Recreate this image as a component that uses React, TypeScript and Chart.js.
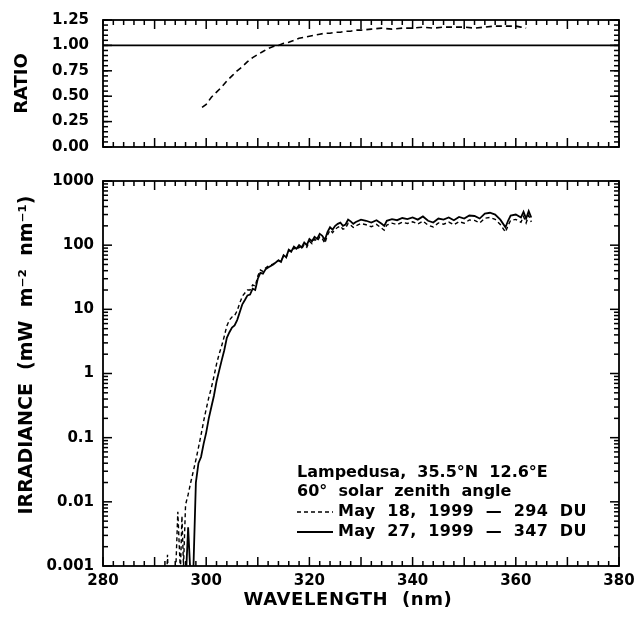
import React, { useEffect, useRef } from 'react';
import { Chart, registerables } from 'chart.js';

Chart.register(...registerables);

const FONT = '"DejaVu Sans", "Liberation Sans", sans-serif';

// ---------- DATA ----------
const ratioWavelengths = [299.2, 300, 301, 302, 303, 304, 305, 306, 307, 308, 309, 310, 311, 312, 313, 314, 315, 316, 317, 318, 319, 320, 321, 322, 323, 324, 325, 326, 327, 328, 329, 330, 332, 334, 336, 338, 340, 342, 344, 346, 348, 350, 352, 354, 356, 358, 360, 361, 362];
const ratioValues = [0.39, 0.42, 0.49, 0.54, 0.59, 0.65, 0.70, 0.75, 0.79, 0.84, 0.88, 0.91, 0.94, 0.97, 0.99, 1.00, 1.02, 1.03, 1.05, 1.07, 1.08, 1.09, 1.10, 1.11, 1.12, 1.12, 1.13, 1.13, 1.14, 1.14, 1.15, 1.15, 1.16, 1.17, 1.16, 1.17, 1.17, 1.18, 1.17, 1.18, 1.18, 1.18, 1.17, 1.18, 1.19, 1.19, 1.19, 1.18, 1.17];
const unityWavelengths = [280, 380];
const unityValues = [1, 1];

const may27Wavelengths = [296, 296.5, 297, 297.5, 298, 298.5, 299, 299.5, 300, 300.5, 301, 301.5, 302, 302.5, 303, 303.5, 304, 304.5, 305, 305.5, 306, 306.5, 307, 307.5, 308, 308.5, 309, 309.5, 310, 310.5, 311, 311.5, 312, 313, 314, 314.5, 315, 315.5, 316, 316.5, 317, 317.5, 318, 318.5, 319, 319.5, 320, 320.5, 321, 321.5, 322, 322.5, 323, 323.5, 324, 324.5, 325, 325.5, 326, 326.5, 327, 327.5, 328, 328.5, 329, 330, 331, 332, 333, 334, 334.5, 335, 336, 337, 338, 339, 340, 341, 342, 343, 344, 345, 346, 347, 348, 349, 350, 351, 352, 353, 354, 355, 356, 357, 358, 358.5, 359, 360, 361, 361.5, 362, 362.5, 363];
const may27Values = [0.0005, 0.004, 0.0006, 0.0008, 0.02, 0.04, 0.05, 0.08, 0.12, 0.2, 0.3, 0.45, 0.75, 1.1, 1.6, 2.3, 3.6, 4.4, 5.2, 5.6, 6.8, 9, 12, 14, 16.5, 17, 21, 20, 30, 37, 36, 42, 45, 50, 58, 55, 70, 65, 85, 80, 95, 88, 100, 92, 110, 100, 125, 115, 135, 125, 150, 140, 120, 160, 190, 175, 200, 215, 225, 200, 210, 250, 235, 215, 230, 250, 240, 225, 245, 215, 200, 240, 255, 245, 265, 255, 270, 250, 280, 240, 225, 260, 250, 270, 245, 275, 260, 290, 285, 260, 310, 320, 300, 250, 190, 240, 290, 300, 270, 330, 260, 340, 270];

const may18Wavelengths = [292.3, 292.5, 292.7, 294, 294.5, 295, 295.3, 295.6, 296, 296.5, 297, 297.5, 298, 298.5, 299, 299.5, 300, 300.5, 301, 301.5, 302, 302.5, 303, 303.5, 304, 304.5, 305, 305.5, 306, 306.5, 307, 307.5, 308, 308.5, 309, 309.5, 310, 310.5, 311, 311.5, 312, 313, 314, 314.5, 315, 315.5, 316, 316.5, 317, 317.5, 318, 318.5, 319, 319.5, 320, 320.5, 321, 321.5, 322, 322.5, 323, 323.5, 324, 324.5, 325, 325.5, 326, 326.5, 327, 327.5, 328, 328.5, 329, 330, 331, 332, 333, 334, 334.5, 335, 336, 337, 338, 339, 340, 341, 342, 343, 344, 345, 346, 347, 348, 349, 350, 351, 352, 353, 354, 355, 356, 357, 358, 358.5, 359, 360, 361, 361.5, 362, 362.5, 363];
const may18Values = [0.0005, 0.0015, 0.0005, 0.0005, 0.007, 0.0008, 0.006, 0.001, 0.009, 0.013, 0.02, 0.03, 0.045, 0.07, 0.11, 0.18, 0.28, 0.42, 0.6, 0.9, 1.4, 2, 2.7, 3.8, 5.5, 6.8, 7.6, 8, 9.5, 12.5, 16, 18, 20, 20, 24, 23, 33, 41, 39, 44, 47, 51, 58, 56, 69, 64, 83, 78, 91, 84, 94, 87, 103, 93, 115, 106, 124, 114, 135, 126, 107, 143, 171, 157, 177, 190, 199, 177, 184, 219, 206, 189, 200, 217, 208, 194, 211, 184, 171, 206, 220, 210, 227, 218, 231, 214, 237, 205, 192, 222, 212, 229, 208, 233, 220, 247, 243, 222, 263, 270, 252, 210, 160, 202, 244, 252, 228, 280, 222, 290, 230];

const xTickValues = [280, 300, 320, 340, 360, 380];
const ratioTickValues = [0, 0.25, 0.5, 0.75, 1.0, 1.25];
const ratioTickLabels = ['0.00', '0.25', '0.50', '0.75', '1.00', '1.25'];
const irrTickValues = [0.001, 0.01, 0.1, 1, 10, 100, 1000];
const irrTickLabels = ['0.001', '0.01', '0.1', '1', '10', '100', '1000'];

const legendHeader = ['Lampedusa,  35.5°N  12.6°E', '60°  solar  zenith  angle'];
const seriesLabels = ['May  18,  1999  —  294  DU', 'May  27,  1999  —  347  DU'];
const ratioTitle = 'RATIO';
const irrTitle = 'IRRADIANCE  (mW  m⁻²  nm⁻¹)';
const xTitle = 'WAVELENGTH  (nm)';

const toPoints = (xs: number[], ys: number[]) => xs.map((x, i) => ({ x, y: ys[i] }));

// ---------- PLUGINS ----------
function makeFramePlugin(yMinor: number[], yMajor: number[]) {
  return {
    id: 'frameTicks',
    afterDraw(chart: any) {
      const { ctx, chartArea: a, scales } = chart;
      const xs = scales.x;
      const ys = scales.y;
      ctx.save();
      ctx.setLineDash([]);
      ctx.globalAlpha = 1;
      ctx.fillStyle = '#000';
      const w = 1.5;
      for (let v = 280; v <= 380; v += 2) {
        const px = xs.getPixelForValue(v);
        const len = v % 10 === 0 ? 9 : 5;
        ctx.fillRect(px - w / 2, a.bottom - len, w, len);
        ctx.fillRect(px - w / 2, a.top, w, len);
      }
      const tick = (v: number, len: number) => {
        const py = ys.getPixelForValue(v);
        ctx.fillRect(a.left, py - w / 2, len, w);
        ctx.fillRect(a.right - len, py - w / 2, len, w);
      };
      yMinor.forEach((v) => tick(v, 5));
      yMajor.forEach((v) => tick(v, 9));
      ctx.strokeStyle = '#000';
      ctx.lineWidth = 1.8;
      ctx.strokeRect(a.left, a.top, a.right - a.left, a.bottom - a.top);
      ctx.restore();
    },
  };
}

function makeTextPlugin(draw: (chart: any) => void) {
  return { id: 'texts', afterDraw: draw };
}

const OFFSET_BOTTOM = 165;

export default function App() {
  const topRef = useRef<HTMLCanvasElement>(null);
  const botRef = useRef<HTMLCanvasElement>(null);

  useEffect(() => {
    const ratioMinor: number[] = [];
    for (let i = 0; i <= 25; i++) ratioMinor.push(i * 0.05);
    const logMinor: number[] = [];
    for (let e = -3; e < 3; e++) for (let m = 2; m <= 9; m++) logMinor.push(m * Math.pow(10, e));

    const tickFont = { family: FONT, size: 15, weight: 'bold' as const };

    const top = new Chart(topRef.current!, {
      type: 'line',
      data: {
        datasets: [
          {
            data: toPoints(unityWavelengths, unityValues),
            borderColor: '#000',
            borderWidth: 1.6,
            pointRadius: 0,
          },
          {
            data: toPoints(ratioWavelengths, ratioValues),
            borderColor: '#000',
            borderWidth: 1.6,
            borderDash: [6, 4],
            pointRadius: 0,
          },
        ],
      },
      options: {
        animation: false,
        responsive: false,
        events: [],
        layout: { padding: { top: 20, right: 16, bottom: 18, left: 0 } },
        plugins: { legend: { display: false }, tooltip: { enabled: false } },
        scales: {
          x: {
            type: 'linear', min: 280, max: 380, display: false,
            afterFit: (s: any) => { s.paddingLeft = 0; s.paddingRight = 0; },
          },
          y: {
            type: 'linear',
            min: 0,
            max: 1.25,
            afterFit: (s: any) => { s.width = 103; s.paddingTop = 0; s.paddingBottom = 0; },
            afterBuildTicks: (s: any) => { s.ticks = ratioTickValues.map((v) => ({ value: v })); },
            grid: { display: false, drawTicks: false },
            border: { display: false },
            ticks: {
              color: '#000',
              font: tickFont,
              padding: 14,
              callback: (_v: any, i: number) => ratioTickLabels[i],
            },
          },
        },
      },
      plugins: [
        makeFramePlugin(ratioMinor, ratioTickValues),
        makeTextPlugin((chart: any) => {
          const { ctx, chartArea: a } = chart;
          ctx.save();
          ctx.fillStyle = '#000';
          ctx.font = `bold 18px ${FONT}`;
          ctx.textAlign = 'center';
          ctx.textBaseline = 'middle';
          ctx.translate(22, (a.top + a.bottom) / 2);
          ctx.rotate(-Math.PI / 2);
          ctx.fillText(ratioTitle, 0, 0);
          ctx.restore();
        }),
      ],
    });

    const bottom = new Chart(botRef.current!, {
      type: 'line',
      data: {
        datasets: [
          {
            label: seriesLabels[0],
            data: toPoints(may18Wavelengths, may18Values),
            borderColor: '#000',
            borderWidth: 1.4,
            borderDash: [4, 3],
            pointRadius: 0,
          },
          {
            label: seriesLabels[1],
            data: toPoints(may27Wavelengths, may27Values),
            borderColor: '#000',
            borderWidth: 1.8,
            pointRadius: 0,
          },
        ],
      },
      options: {
        animation: false,
        responsive: false,
        events: [],
        layout: { padding: { top: 16, right: 16, bottom: 0, left: 0 } },
        plugins: { legend: { display: false }, tooltip: { enabled: false } },
        scales: {
          x: {
            type: 'linear',
            min: 280,
            max: 380,
            afterFit: (s: any) => { s.height = 51; s.paddingLeft = 0; s.paddingRight = 0; },
            afterBuildTicks: (s: any) => { s.ticks = xTickValues.map((v) => ({ value: v })); },
            grid: { display: false, drawTicks: false },
            border: { display: false },
            ticks: {
              color: '#000',
              font: tickFont,
              padding: 6,
              maxRotation: 0,
              callback: (v: any) => String(v),
            },
          },
          y: {
            type: 'logarithmic',
            min: 0.001,
            max: 1000,
            afterFit: (s: any) => { s.width = 103; s.paddingTop = 0; s.paddingBottom = 0; },
            afterBuildTicks: (s: any) => { s.ticks = irrTickValues.map((v) => ({ value: v })); },
            grid: { display: false, drawTicks: false },
            border: { display: false },
            ticks: {
              color: '#000',
              font: tickFont,
              padding: 9,
              callback: (_v: any, i: number) => irrTickLabels[i],
            },
          },
        },
      },
      plugins: [
        makeFramePlugin(logMinor, irrTickValues),
        makeTextPlugin((chart: any) => {
          const { ctx } = chart;
          ctx.save();
          ctx.fillStyle = '#000';
          ctx.strokeStyle = '#000';
          // axis titles
          ctx.font = `bold 18px ${FONT}`;
          ctx.textAlign = 'center';
          ctx.textBaseline = 'middle';
          (ctx as any).letterSpacing = '0.6px';
          ctx.fillText(xTitle, 348, 600 - OFFSET_BOTTOM);
          (ctx as any).letterSpacing = '0px';
          ctx.save();
          ctx.font = `bold 19px ${FONT}`;
          ctx.translate(27, 355 - OFFSET_BOTTOM);
          ctx.rotate(-Math.PI / 2);
          ctx.fillText(irrTitle, 0, 0);
          ctx.restore();
          // legend
          ctx.font = `bold 16px ${FONT}`;
          ctx.textAlign = 'left';
          const lx = 297;
          const ly = [473, 492, 512, 532].map((y) => y - OFFSET_BOTTOM);
          ctx.fillText(legendHeader[0], lx, ly[0]);
          ctx.fillText(legendHeader[1], lx, ly[1]);
          const dashes = [[4, 3], []];
          const widths = [1.4, 1.8];
          for (let i = 0; i < 2; i++) {
            ctx.beginPath();
            ctx.setLineDash(dashes[i]);
            ctx.lineWidth = widths[i];
            ctx.moveTo(lx, ly[i + 2]);
            ctx.lineTo(lx + 36, ly[i + 2]);
            ctx.stroke();
            ctx.setLineDash([]);
            (ctx as any).letterSpacing = '0.3px';
            ctx.fillText(seriesLabels[i], lx + 41, ly[i + 2]);
            (ctx as any).letterSpacing = '0px';
          }
          ctx.restore();
        }),
      ],
    });

    return () => {
      top.destroy();
      bottom.destroy();
    };
  }, []);

  return (
    <div style={{ position: 'absolute', left: 0, top: 0, width: 635, height: 617, background: '#fff' }}>
      <canvas ref={topRef} width={635} height={165} style={{ position: 'absolute', left: 0, top: 0 }} />
      <canvas ref={botRef} width={635} height={452} style={{ position: 'absolute', left: 0, top: OFFSET_BOTTOM }} />
    </div>
  );
}
